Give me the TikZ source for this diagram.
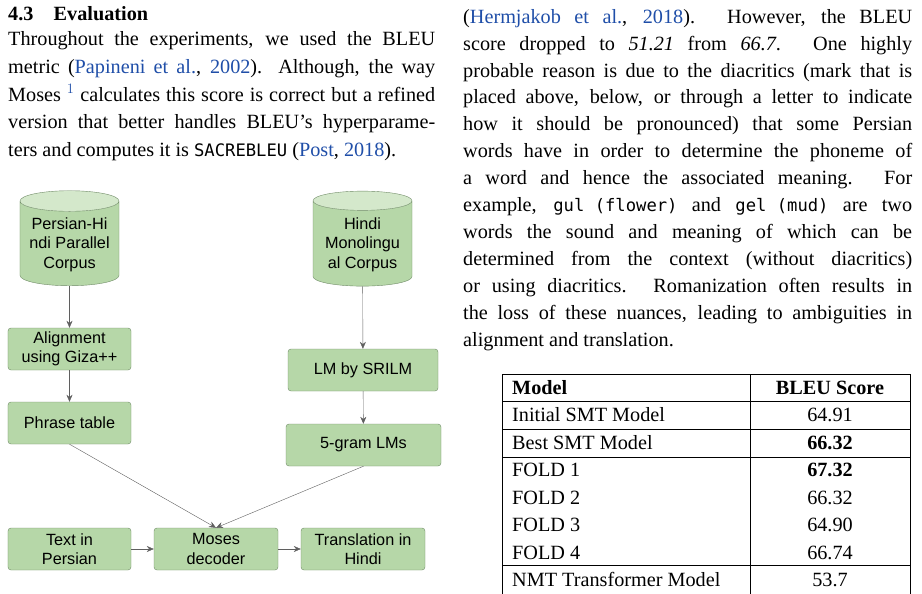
\documentclass[tikz,border=0pt]{standalone}
\usepackage{fontspec}
\setmainfont{Liberation Serif}
\setmonofont{DejaVu Sans Mono}[Scale=0.85]
\newfontfamily\diagfont{Liberation Sans}
\usepackage{tikz}
\usetikzlibrary{shapes.geometric,arrows.meta,positioning}
\definecolor{boxgreen}{HTML}{B6D7A8}
\definecolor{boxtop}{HTML}{D4E8CB}
\definecolor{boxedge}{HTML}{6F8A66}
\definecolor{arrgray}{HTML}{5F5F5F}
\definecolor{linkblue}{HTML}{1F4EA8}
\newcommand{\lnk}[1]{\textcolor{linkblue}{#1}}
\begin{document}
\begin{tikzpicture}[x=1bp, y=-1bp,
	box/.style={draw=boxedge, fill=boxgreen, rounded corners=3bp, align=center, inner sep=1bp,
		font=\diagfont\fontsize{16.3}{19.5}\selectfont, minimum width=123bp, minimum height=42bp},
	store/.style={cylinder, shape border rotate=90, aspect=0.25, draw=boxedge, cylinder uses custom fill,
		cylinder body fill=boxgreen, cylinder end fill=boxtop, align=center, inner sep=1bp,
		font=\diagfont\fontsize{16.3}{19.5}\selectfont, minimum width=99bp, minimum height=95bp},
	flow/.style={draw=arrgray, -{Stealth[length=7bp, width=6bp]}},
	para/.style={anchor=north west, inner sep=0pt, align=justify, font=\fontsize{20.3}{#1}\selectfont}]
	\useasboundingbox (0,0) rectangle (922,594);

	% left column text
	\node (head) [anchor=base west, inner sep=0pt, font=\fontsize{20.3}{22}\selectfont\bfseries] at (8,21) {4.3\quad Evaluation};
	\node (lpar) [para=28, text width=427bp] at (8,31) {Throughout the experiments, we used the BLEU\linebreak
		metric (\lnk{Papineni et al.}, \lnk{2002}). Although, the way\linebreak
		Moses $^{\textcolor{linkblue}{1}}$ calculates this score is correct but a refined\linebreak
		version that better handles BLEU's hyperparame-\linebreak
		ters and computes it is \texttt{SACREBLEU} (\lnk{Post}, \lnk{2018}).};

	% right column text
	\node (rpar) [para=27, text width=449bp] at (463,9) {(\lnk{Hermjakob et al.}, \lnk{2018}). However, the BLEU\linebreak
		score dropped to \textit{51.21} from \textit{66.7}. One highly\linebreak
		probable reason is due to the diacritics (mark that is\linebreak
		placed above, below, or through a letter to indicate\linebreak
		how it should be pronounced) that some Persian\linebreak
		words have in order to determine the phoneme of\linebreak
		a word and hence the associated meaning. For\linebreak
		example, \texttt{gul (flower)} and \texttt{gel (mud)} are two\linebreak
		words the sound and meaning of which can be\linebreak
		determined from the context (without diacritics)\linebreak
		or using diacritics. Romanization often results in\linebreak
		the loss of these nuances, leading to ambiguities in\linebreak
		alignment and translation.};

	% pipeline
	\node (corpus) [store] at (69.5,244.5) {Persian-Hi\\ndi Parallel\\Corpus};
	\node (mono) [store] at (362.5,244.5) {Hindi\\Monolingu\\al Corpus};
	\node (align) [box] at (69.5,349) {Alignment\\using Giza++};
	\node (phrase) [box] at (69.5,423) {Phrase table};
	\node (srilm) [box, minimum width=150bp] at (363,370) {LM by SRILM};
	\node (gram) [box, minimum width=155bp] at (363.5,445) {5-gram LMs};
	\node (input) [box] at (69.5,549) {Text in\\Persian};
	\node (moses) [box, minimum width=124bp] at (216,549) {Moses\\decoder};
	\node (output) [box, minimum width=124bp] at (363,549) {Translation in\\Hindi};

	\draw [flow] (corpus) -- (align);
	\draw [flow] (align) -- (phrase);
	\draw [flow] (mono) -- (srilm);
	\draw [flow] (srilm) -- (gram);
	\draw [flow] (phrase.south) -- (moses.north);
	\draw [flow] (gram.south) -- (moses.north);
	\draw [flow] (input) -- (moses);
	\draw [flow] (moses) -- (output);

	% results table
	\begin{scope}[font=\fontsize{20.3}{22}\selectfont]
		\draw (502,594) -- (502,374) -- (910,374) -- (910,594);
		\draw (750,374) -- (750,594);
		\foreach \y in {401,429,457,565} \draw (502,\y) -- (910,\y);
		\node (hm) [anchor=base west, inner sep=0pt, font=\fontsize{20.3}{22}\selectfont\bfseries] at (512,394) {Model};
		\node (hs) [anchor=base, inner sep=0pt, font=\fontsize{20.3}{22}\selectfont\bfseries] at (830,394) {BLEU Score};
		\foreach \name/\score [count=\i] in {Initial SMT Model/64.91, Best SMT Model/\textbf{66.32},
			FOLD 1/\textbf{67.32}, FOLD 2/66.32, FOLD 3/64.90, FOLD 4/66.74, NMT Transformer Model/53.7} {
			\node (m\i) [anchor=base west, inner sep=0pt] at (512,394+27.5*\i) {\name};
			\node (s\i) [anchor=base, inner sep=0pt] at (830,394+27.5*\i) {\score};
		}
	\end{scope}
\end{tikzpicture}
\end{document}
